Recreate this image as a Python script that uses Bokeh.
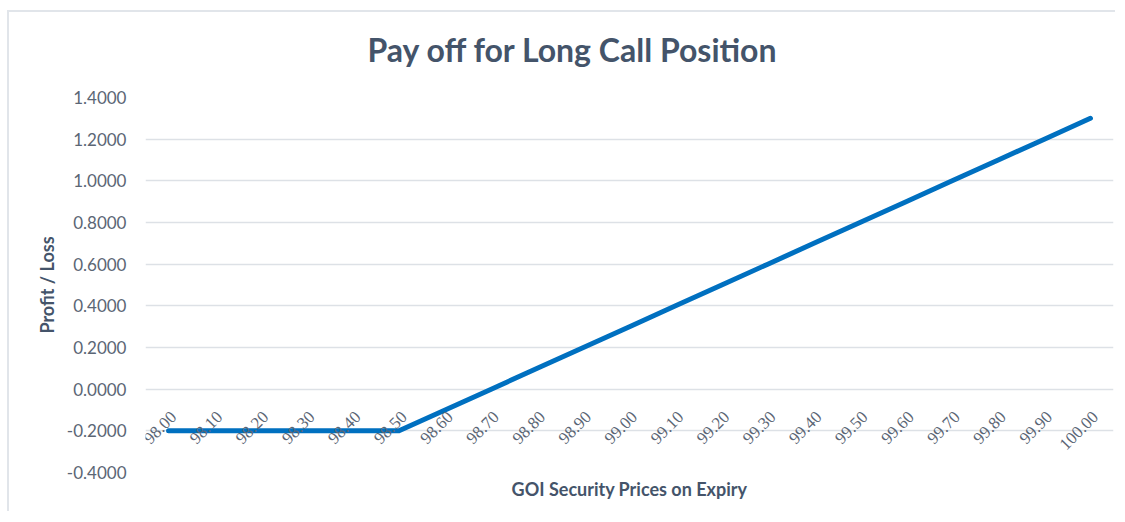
from math import pi
from bokeh.plotting import figure
from bokeh.models import (ColumnDataSource, FactorRange, Range1d, FixedTicker,
                          NumeralTickFormatter, LabelSet, Title)
from bokeh.embed import file_html
from bokeh.resources import INLINE

# ---- data ----
prices = ["98.00", "98.10", "98.20", "98.30", "98.40", "98.50", "98.60",
          "98.70", "98.80", "98.90", "99.00", "99.10", "99.20", "99.30",
          "99.40", "99.50", "99.60", "99.70", "99.80", "99.90", "100.00"]
payoff = [-0.2, -0.2, -0.2, -0.2, -0.2, -0.2, -0.1,
          0.0, 0.1, 0.2, 0.3, 0.4, 0.5, 0.6,
          0.7, 0.8, 0.9, 1.0, 1.1, 1.2, 1.3]
y_ticks = [-0.4, -0.2, 0.0, 0.2, 0.4, 0.6, 0.8, 1.0, 1.2, 1.4]
title_text = "Pay off for Long Call Position"
x_title = "GOI Security Prices on Expiry"
y_title = "Profit / Loss"

FONT = "Lato"
TITLE_COLOR = "#44546A"
TICK_COLOR = "#5b6675"

src = ColumnDataSource(dict(x=prices, y=payoff,
                            ly=[-0.12] * len(prices)))

p = figure(width=1108, height=501,
           x_range=FactorRange(*prices, range_padding=0),
           y_range=Range1d(-0.4, 1.4),
           output_backend="svg", toolbar_location=None,
           min_border_left=136, min_border_right=4,
           min_border_top=85, min_border_bottom=41)

p.styles = {"border-top": "2px solid #e1e5ea", "border-left": "2px solid #e1e5ea",
            "margin-left": "7px", "margin-top": "10px"}

# spacer between frame and title (closest to frame)
p.add_layout(Title(text="\u00a0", text_font_size="9px", standoff=0,
                   text_font=FONT), "above")
p.add_layout(Title(text=title_text, align="left", offset=222,
                   vertical_align="top", standoff=28,
                   text_font=FONT, text_font_size="32px", text_font_style="bold",
                   text_color=TITLE_COLOR), "above")

p.outline_line_color = None
p.xgrid.grid_line_color = None
p.ygrid.grid_line_color = "#dde1e6"
p.ygrid.grid_line_width = 1.5

p.yaxis.ticker = FixedTicker(ticks=y_ticks)
p.yaxis.formatter = NumeralTickFormatter(format="0.0000")
p.yaxis.axis_line_color = None
p.yaxis.major_tick_line_color = None
p.yaxis.minor_tick_line_color = None
p.yaxis.major_label_text_font = FONT
p.yaxis.major_label_text_font_size = "17px"
p.yaxis.major_label_text_color = TICK_COLOR
p.yaxis.major_label_standoff = 13
p.yaxis.axis_label = y_title
p.yaxis.axis_label_text_font = FONT
p.yaxis.axis_label_text_font_size = "18px"
p.yaxis.axis_label_text_font_style = "bold"
p.yaxis.axis_label_text_color = TITLE_COLOR
p.yaxis.axis_label_standoff = 6

p.xaxis.visible = False

p.add_layout(Title(text=x_title, align="center", text_font=FONT,
                   text_font_size="18px", text_font_style="bold",
                   text_color=TITLE_COLOR, standoff=6), "below")

p.line("x", "y", source=src, line_color="#0070C0", line_width=5,
       line_cap="round", line_join="round")

labels = LabelSet(x="x", y="ly", text="x", source=src, angle=pi / 4,
                  text_align="right", text_baseline="middle", x_offset=5,
                  text_font=FONT, text_font_size="17px", text_color=TICK_COLOR)
p.add_layout(labels)

open("out.html", "w").write(file_html(p, INLINE))
